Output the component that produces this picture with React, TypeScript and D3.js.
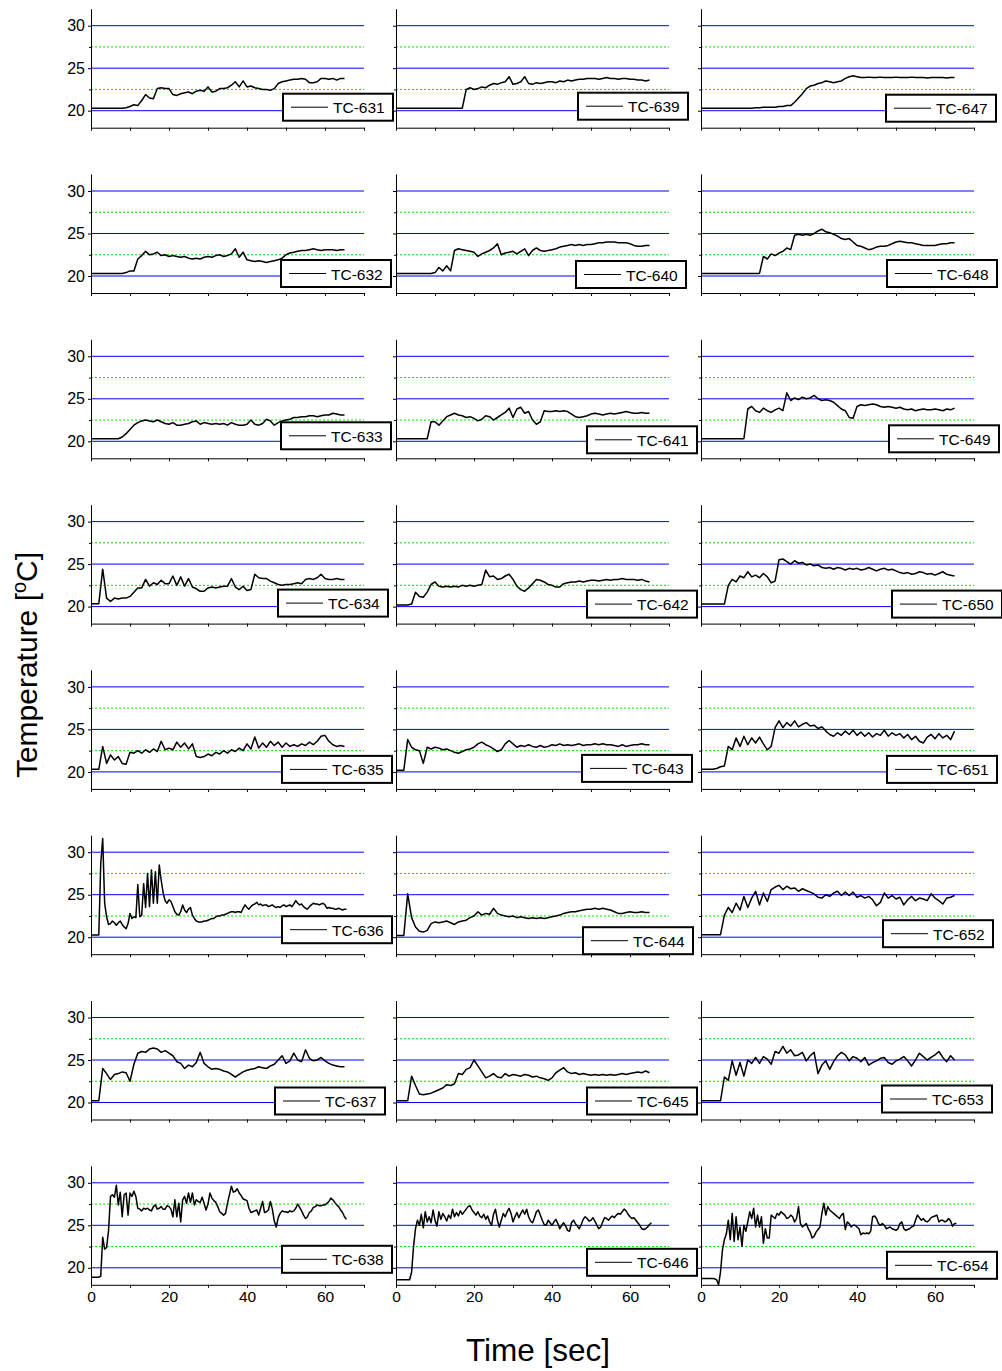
import React, { useRef, useEffect } from "react";
import * as d3 from "d3";

// ---- series (deg C), sampled every DT_COARSE or DT_FINE seconds from t = 0 ----
const DT_COARSE = 1;
const DT_FINE = 0.5;

const TC631 = [
  20.3, 20.3, 20.3, 20.3, 20.3, 20.3, 20.3, 20.3, 20.3, 20.35,
  20.5, 20.7, 20.6, 21.2, 21.9, 21.5, 21.4, 22.6, 22.7, 22.6,
  22.6, 21.9, 21.8, 22.0, 22.1, 22.2, 22.0, 22.3, 22.4, 22.3,
  22.8, 22.2, 22.3, 22.6, 22.6, 22.7, 23.0, 23.4, 22.8, 23.5,
  22.8, 22.9, 22.7, 22.6, 22.5, 22.5, 22.4, 22.6, 23.2, 23.4,
  23.5, 23.6, 23.7, 23.7, 23.8, 23.7, 23.3, 23.3, 23.4, 23.8,
  23.8, 23.7, 23.8, 23.6, 23.8, 23.8,
];
const TC632 = [
  20.3, 20.3, 20.3, 20.3, 20.3, 20.3, 20.3, 20.3, 20.3, 20.4,
  20.6, 20.6, 22.0, 22.4, 22.9, 22.5, 22.6, 22.8, 22.4, 22.5,
  22.3, 22.4, 22.3, 22.2, 22.3, 22.1, 22.0, 22.1, 22.0, 22.2,
  22.3, 22.2, 22.4, 22.5, 22.3, 22.4, 22.6, 23.2, 22.2, 22.8,
  21.9, 21.8, 21.7, 21.8, 21.7, 21.6, 21.7, 21.8, 21.9, 22.1,
  22.5, 22.7, 22.8, 22.9, 23.0, 23.0, 23.1, 23.2, 23.1, 23.0,
  23.1, 23.1, 23.1, 23.0, 23.1, 23.1,
];
const TC633 = [
  20.3, 20.3, 20.3, 20.3, 20.3, 20.3, 20.3, 20.3, 20.5, 20.9,
  21.4, 21.9, 22.2, 22.4, 22.5, 22.4, 22.3, 22.5, 22.3, 22.1,
  22.0, 22.2, 21.9, 21.9, 22.0, 22.1, 22.3, 22.4, 22.0, 22.2,
  22.1, 22.0, 22.1, 22.0, 22.1, 21.9, 22.2, 22.0, 21.9, 21.9,
  22.0, 22.5, 22.0, 21.9, 22.1, 22.6, 22.4, 21.9, 22.2, 22.4,
  22.5, 22.6, 22.8, 22.8, 22.9, 22.9, 23.0, 23.0, 22.9, 23.0,
  23.1, 23.1, 23.3, 23.2, 23.1, 23.1,
];
const TC634 = [
  20.35, 20.35, 20.35, 24.4, 21.0, 20.6, 21.0, 20.9, 21.0, 21.0,
  21.2, 21.7, 22.2, 22.2, 23.2, 22.4, 22.8, 22.6, 23.1, 22.7,
  22.7, 23.6, 22.5, 23.5, 22.4, 23.3, 22.3, 22.1, 21.8, 21.8,
  22.2, 22.3, 22.2, 22.3, 22.4, 22.4, 23.3, 22.3, 22.0, 22.4,
  21.9, 22.0, 23.8, 23.4, 23.3, 23.3, 23.0, 22.8, 22.6, 22.5,
  22.6, 22.6, 22.7, 22.8, 22.7, 23.2, 23.3, 23.2, 23.4, 23.8,
  23.3, 23.2, 23.2, 23.3, 23.2, 23.2,
];
const TC635 = [
  20.3, 20.3, 20.3, 23.0, 21.0, 22.0, 21.4, 21.8, 21.0, 20.9,
  22.3, 22.2, 22.5, 22.2, 22.6, 22.3, 22.7, 22.4, 23.6, 22.6,
  22.8, 22.6, 23.5, 22.9, 23.4, 22.7, 23.3, 21.8, 21.7, 21.8,
  22.1, 21.9, 22.3, 22.1, 22.5, 22.2, 22.6, 22.4, 22.8, 22.5,
  23.3, 22.7, 24.1, 22.8, 23.4, 22.9, 23.6, 23.1, 23.5, 22.9,
  23.4, 23.0, 23.2, 23.0, 23.3, 23.1, 23.5, 23.2, 23.6, 24.2,
  24.3, 23.6, 23.2, 23.0, 23.1, 23.0,
];
const TC636 = [
  20.26, 20.26, 20.26, 20.26, 20.26, 28.7, 31.6, 24.0, 22.4, 21.5,
  21.6, 21.9, 21.7, 21.4, 21.7, 21.9, 21.5, 21.2, 21.0, 21.6,
  22.8, 22.2, 22.4, 22.3, 26.2, 22.4, 22.6, 26.3, 23.5, 27.5,
  23.6, 27.9, 24.0, 27.7, 24.0, 28.5, 26.7, 25.2, 24.3, 24.0,
  24.4, 24.2, 23.6, 23.0, 22.7, 22.6, 23.0, 23.8, 23.2, 22.9,
  23.3, 23.5, 22.6, 22.2, 21.9, 21.8, 21.8, 21.8, 21.9, 21.9,
  22.0, 22.1, 22.2, 22.2, 22.4, 22.5, 22.5, 22.6, 22.6, 22.7,
  22.8, 22.9, 23.0, 23.0, 22.9, 23.0, 23.0, 22.9, 23.4, 23.8,
  23.5, 23.3, 23.6, 23.8, 23.9, 24.1, 23.8, 23.9, 23.7, 23.8,
  23.8, 23.6, 23.7, 23.8, 23.6, 23.5, 23.6, 23.5, 23.7, 23.8,
  23.6, 23.7, 23.8, 23.6, 23.9, 24.3, 24.0, 23.8, 23.9, 23.6,
  23.4, 23.3, 23.6, 23.8, 24.0, 23.9, 23.9, 23.8, 23.9, 24.0,
  23.8, 23.4, 23.5, 23.4, 23.4, 23.3, 23.3, 23.4, 23.3, 23.2,
  23.3, 23.3,
];
const TC637 = [
  20.2, 20.2, 20.2, 24.0, 23.4, 22.7, 23.3, 23.4, 23.6, 23.5,
  22.5, 24.5, 25.8, 26.0, 25.9, 26.3, 26.4, 26.3, 25.9, 26.1,
  25.8, 25.5, 24.8, 24.6, 24.0, 24.4, 24.2, 24.7, 25.9, 24.6,
  24.2, 23.9, 24.0, 23.9, 23.7, 23.6, 23.3, 23.0, 23.3, 23.6,
  23.8, 23.9, 24.0, 24.2, 24.1, 24.0, 24.3, 24.5, 25.0, 25.5,
  24.6, 24.9, 25.8, 25.0, 24.8, 26.2, 25.2, 24.9, 25.0, 25.3,
  24.9, 24.6, 24.4, 24.3, 24.2, 24.2,
];
const TC638 = [
  18.9, 18.9, 18.9, 18.9, 18.9, 19.0, 23.6, 22.2, 22.4, 24.4,
  28.4, 28.6, 28.3, 29.7, 27.4, 28.9, 26.0, 28.6, 28.8, 26.2,
  28.8, 28.4, 29.0, 28.4, 27.0, 26.9, 26.7, 27.0, 26.9, 27.0,
  26.8, 26.7, 27.2, 27.4, 26.9, 27.0, 27.2, 26.9, 26.9, 27.3,
  27.2, 26.9, 26.0, 28.0, 26.0, 27.6, 25.4, 28.0, 28.4, 27.6,
  28.8, 27.7, 28.8, 27.4, 28.0, 27.8, 27.7, 28.3, 27.6, 26.8,
  27.5, 28.8, 28.2, 27.9, 27.7, 27.2, 26.6, 26.4, 26.2, 26.4,
  27.6, 28.6, 29.6, 28.9, 29.0, 29.3, 28.8, 28.5, 28.1, 28.0,
  27.9, 27.0, 26.5, 26.6, 26.7, 26.8, 26.2, 27.0, 27.8, 26.5,
  26.6, 26.8, 27.8, 26.9, 25.5, 24.8, 25.9, 26.4, 26.7, 26.6,
  26.6, 26.5, 26.7, 26.6, 26.7, 27.0, 27.5, 27.1, 26.7, 26.2,
  25.8, 26.0, 26.5, 26.7, 27.1, 27.2, 27.4, 27.3, 27.3, 27.4,
  27.4, 27.6, 27.8, 28.2, 28.0, 27.7, 27.4, 27.2, 26.8, 26.5,
  26.0, 25.7,
];
const TC639 = [
  20.3, 20.3, 20.3, 20.3, 20.3, 20.3, 20.3, 20.3, 20.3, 20.3,
  20.3, 20.3, 20.3, 20.3, 20.3, 20.3, 20.3, 20.3, 22.5, 22.7,
  22.5, 22.6, 22.8, 22.7, 23.0, 23.2, 23.1, 23.3, 23.4, 24.0,
  23.1, 23.2, 23.4, 24.0, 23.2, 23.1, 23.3, 23.2, 23.3, 23.4,
  23.4, 23.3, 23.5, 23.4, 23.6, 23.5, 23.6, 23.7, 23.7, 23.8,
  23.8, 23.8, 23.7, 23.8, 23.9, 23.8, 23.8, 23.7, 23.8, 23.8,
  23.7, 23.7, 23.6, 23.6, 23.5, 23.6,
];
const TC640 = [
  20.3, 20.3, 20.3, 20.3, 20.3, 20.3, 20.3, 20.3, 20.3, 20.3,
  20.4, 21.0, 20.6, 21.2, 20.6, 23.0, 23.2, 23.1, 23.0, 22.9,
  22.8, 22.3, 22.6, 22.8, 23.0, 23.3, 23.8, 22.5, 22.7, 22.8,
  22.9, 22.6, 22.9, 23.2, 22.4, 23.0, 23.3, 23.0, 22.9, 23.0,
  23.1, 23.2, 23.4, 23.5, 23.6, 23.7, 23.6, 23.7, 23.6, 23.7,
  23.7, 23.8, 23.9, 23.9, 24.0, 24.0, 24.0, 23.9, 23.9, 23.9,
  23.8, 23.6, 23.5, 23.5, 23.6, 23.6,
];
const TC641 = [
  20.3, 20.3, 20.3, 20.3, 20.3, 20.3, 20.3, 20.3, 20.3, 22.3,
  22.3, 21.9, 22.4, 22.9, 23.1, 23.3, 23.1, 23.0, 22.8, 22.9,
  22.7, 22.4, 22.6, 23.0, 22.9, 22.5, 22.8, 23.1, 23.4, 23.9,
  22.8, 23.8, 24.0, 23.3, 23.5, 22.5, 22.0, 22.3, 23.6, 23.5,
  23.5, 23.6, 23.5, 23.6, 23.5, 23.2, 22.9, 22.8, 22.9, 23.0,
  23.2, 23.3, 23.2, 23.1, 23.2, 23.3, 23.2, 23.3, 23.4, 23.5,
  23.4, 23.3, 23.3, 23.4, 23.3, 23.3,
];
const TC642 = [
  20.2, 20.2, 20.2, 20.2, 20.3, 21.7, 21.2, 21.1, 21.7, 22.6,
  22.9, 22.4, 22.3, 22.4, 22.3, 22.4, 22.3, 22.5, 22.4, 22.5,
  22.4, 22.5, 22.6, 24.3, 23.5, 23.6, 23.2, 23.3, 23.6, 23.8,
  23.2, 22.4, 22.0, 21.8, 22.2, 22.7, 23.2, 23.1, 22.9, 22.6,
  22.5, 22.3, 22.3, 22.7, 22.8, 22.9, 22.9, 23.0, 22.9, 23.0,
  23.1, 23.1, 23.0, 23.1, 23.2, 23.1, 23.2, 23.2, 23.3, 23.2,
  23.2, 23.2, 23.1, 23.2, 23.0, 22.9,
];
const TC643 = [
  20.2, 20.2, 20.2, 23.8, 22.9, 22.6, 22.5, 21.0, 22.9, 22.7,
  22.9, 22.8, 22.6, 22.7, 22.5, 22.3, 22.2, 22.4, 22.6, 22.7,
  22.9, 23.3, 23.5, 23.2, 23.0, 22.7, 22.4, 22.6, 23.3, 23.7,
  23.3, 22.9, 23.1, 23.0, 23.2, 23.0, 22.9, 23.1, 22.9, 23.0,
  23.2, 23.1, 23.3, 23.1, 23.2, 23.1, 23.2, 23.3, 23.1, 23.2,
  23.2, 23.3, 23.2, 23.3, 23.2, 23.2, 23.1, 23.0, 23.2, 23.0,
  23.1, 23.2, 23.2, 23.3, 23.2, 23.2,
];
const TC644 = [
  20.2, 20.2, 20.2, 25.1, 22.3, 21.2, 20.7, 20.6, 20.8, 21.6,
  21.8, 21.7, 21.8, 21.9, 21.7, 21.5, 21.8, 21.9, 22.0, 22.3,
  22.5, 23.0, 22.6, 22.8, 22.7, 23.4, 22.8, 22.6, 22.5, 22.4,
  22.5, 22.3, 22.4, 22.3, 22.2, 22.3, 22.2, 22.3, 22.2, 22.3,
  22.4, 22.5, 22.6, 22.8, 22.9, 23.0, 23.0, 23.1, 23.2, 23.3,
  23.3, 23.4, 23.3, 23.4, 23.3, 23.2, 23.0, 22.8, 22.8, 22.9,
  23.0, 22.9, 22.9, 23.0, 22.9, 22.9,
];
const TC645 = [
  20.2, 20.2, 20.2, 20.2, 23.1, 22.0, 21.0, 20.9, 21.0, 21.1,
  21.3, 21.5, 21.7, 22.1, 22.0, 22.2, 23.4, 23.3, 23.9, 24.1,
  25.0, 24.3, 23.6, 22.9, 23.1, 23.4, 23.0, 22.9, 23.4, 23.1,
  23.3, 23.2, 23.1, 23.3, 23.2, 23.0, 23.1, 22.9, 22.8, 22.6,
  22.9, 23.5, 23.8, 24.1, 23.6, 23.4, 23.5, 23.3, 23.4, 23.3,
  23.2, 23.3, 23.2, 23.3, 23.2, 23.3, 23.2, 23.3, 23.4, 23.3,
  23.4, 23.5, 23.6, 23.5, 23.7, 23.5,
];
const TC646 = [
  18.6, 18.6, 18.6, 18.6, 18.6, 18.6, 18.6, 18.6, 19.5, 22.5,
  24.6, 25.6, 25.0, 26.3, 24.7, 26.6, 25.4, 26.0, 25.3, 26.8,
  25.6, 24.9, 26.6, 25.7, 26.4, 26.0, 25.5, 26.2, 25.8, 26.9,
  26.0, 26.5, 26.1, 26.7, 26.3, 26.6, 26.9, 27.2, 27.3, 26.8,
  26.5, 26.2, 26.6, 26.1, 25.9, 26.3, 25.7, 26.1, 25.4, 25.0,
  26.3, 26.9, 25.6, 24.8, 25.6, 26.4, 26.0, 26.6, 27.0, 26.4,
  25.4, 26.0, 26.5, 25.9, 26.4, 26.8, 26.3, 26.9, 26.0, 25.5,
  25.3, 25.9, 26.6, 26.8, 26.2, 25.6, 25.1, 25.0, 25.6, 25.3,
  25.0, 25.4, 25.7, 25.2, 24.6, 25.0, 25.3, 24.9, 24.4, 24.3,
  25.3, 25.6, 25.2, 24.9, 24.6, 25.1, 25.7, 26.0, 25.8, 25.5,
  25.6, 25.9, 25.5, 25.0, 24.6, 24.8, 25.4, 25.9, 25.8, 25.6,
  25.9, 26.1, 25.9, 26.2, 26.4, 26.3, 26.6, 26.9, 26.7, 26.3,
  26.0, 25.8, 25.9, 25.6, 25.3, 25.0, 24.6, 24.5, 24.6, 24.8,
  25.1, 25.3,
];
const TC647 = [
  20.3, 20.3, 20.3, 20.3, 20.3, 20.3, 20.3, 20.3, 20.3, 20.3,
  20.3, 20.3, 20.3, 20.3, 20.35, 20.35, 20.4, 20.4, 20.4, 20.4,
  20.5, 20.5, 20.6, 20.6, 21.0, 21.5, 22.0, 22.6, 22.9, 23.0,
  23.2, 23.3, 23.5, 23.4, 23.3, 23.4, 23.5, 23.8, 24.0, 24.1,
  24.0, 23.9, 23.9, 23.95, 23.9, 23.9, 23.95, 23.9, 23.9, 23.9,
  23.95, 23.9, 23.9, 23.9, 23.95, 23.9, 23.9, 23.9, 23.85, 23.9,
  23.9, 23.9, 23.9, 23.85, 23.9, 23.9,
];
const TC648 = [
  20.3, 20.3, 20.3, 20.3, 20.3, 20.3, 20.3, 20.3, 20.3, 20.3,
  20.3, 20.3, 20.3, 20.3, 20.3, 20.3, 22.3, 22.0, 22.6, 22.4,
  22.7, 22.9, 23.3, 23.1, 24.8, 24.9, 24.8, 24.9, 24.8, 25.0,
  25.3, 25.5, 25.2, 25.1, 24.9, 24.7, 24.4, 24.3, 24.4, 24.0,
  23.6, 23.5, 23.3, 23.1, 23.2, 23.4, 23.5, 23.5, 23.6, 23.8,
  24.0, 24.1, 24.0, 23.9, 23.9, 23.8, 23.7, 23.6, 23.6, 23.6,
  23.6, 23.7, 23.8, 23.8, 23.9, 23.9,
];
const TC649 = [
  20.3, 20.3, 20.3, 20.3, 20.3, 20.3, 20.3, 20.3, 20.3, 20.3,
  20.3, 20.3, 23.8, 24.1, 23.6, 23.4, 23.9, 23.6, 23.4, 23.7,
  23.9, 23.6, 25.7, 24.8, 25.1, 24.9, 25.2, 25.0, 25.1, 25.4,
  25.0, 24.8, 24.9, 24.8, 24.6, 24.2, 23.8, 23.6, 22.8, 22.7,
  24.1, 24.3, 24.2, 24.3, 24.4, 24.3, 24.1, 24.0, 24.1, 24.0,
  23.9, 24.0, 23.8, 23.7, 23.8, 23.6, 23.7, 23.8, 23.7, 23.7,
  23.8, 23.7, 23.6, 23.8, 23.7, 23.9,
];
const TC650 = [
  20.3, 20.3, 20.3, 20.3, 20.3, 20.3, 20.3, 22.5, 23.2, 22.9,
  23.6, 23.4, 24.1, 23.5, 23.7, 23.4, 23.9, 23.5, 22.8, 23.0,
  25.5, 25.6, 25.3, 25.0, 25.4, 25.1, 25.2, 24.9, 25.0, 24.8,
  24.9, 24.6, 24.5, 24.6, 24.4, 24.6, 24.5, 24.3, 24.5, 24.4,
  24.5, 24.3, 24.4, 24.6, 24.4, 24.2, 24.4, 24.5, 24.3, 24.4,
  24.2, 24.0, 23.9, 24.0, 23.8, 23.9, 24.1, 24.0, 23.8, 23.9,
  23.7, 23.9, 24.1, 23.8, 23.7, 23.6,
];
const TC651 = [
  20.3, 20.3, 20.3, 20.3, 20.4, 20.6, 20.7, 23.0, 22.6, 24.0,
  23.0, 24.2, 23.2, 24.0, 23.4, 24.1, 23.3, 22.6, 23.0, 25.2,
  26.0, 25.2, 25.8, 25.4, 26.0, 25.3, 25.6, 25.8, 25.4, 25.5,
  25.1, 25.3, 24.8, 24.4, 24.2, 24.6, 24.3, 24.8, 24.4, 24.9,
  24.3, 24.7, 24.2, 24.6, 24.1, 24.5, 24.3, 24.9, 24.2, 24.6,
  24.3, 24.5, 24.0, 24.4, 23.8, 24.2, 23.6, 23.4, 24.1, 24.4,
  23.9, 24.5, 24.0, 24.3, 23.8, 24.8,
];
const TC652 = [
  20.3, 20.3, 20.3, 20.3, 20.3, 20.3, 22.6, 23.5, 22.9, 24.0,
  23.2, 24.8, 23.5, 24.6, 25.4, 23.8, 25.2, 24.2, 25.6, 25.9,
  26.1, 25.6, 26.0, 25.7, 25.8, 25.4, 25.7, 25.5, 25.3, 25.1,
  24.7, 24.6, 25.0, 24.8, 25.2, 25.4, 24.9, 25.3, 24.9, 25.3,
  24.7, 24.9, 24.6, 24.8, 24.4, 23.7, 24.1, 25.2, 24.6, 24.9,
  24.5, 24.7, 23.8, 24.4, 24.8, 24.3, 24.6, 24.5, 24.3, 25.1,
  24.6, 24.3, 23.9, 24.6, 24.7, 24.9,
];
const TC653 = [
  20.2, 20.2, 20.2, 20.2, 20.2, 20.2, 23.0, 22.6, 24.9, 23.2,
  24.7, 23.1, 25.0, 24.6, 25.3, 24.6, 25.4, 25.1, 24.5, 26.0,
  25.8, 26.6, 25.8, 26.2, 25.5, 25.6, 25.9, 24.9, 25.5, 25.9,
  23.4, 24.4, 24.9, 23.9, 24.8, 25.5, 25.9, 25.6, 24.9, 25.4,
  25.2, 24.8, 25.3, 24.4, 24.7, 24.9, 25.2, 25.3, 24.7, 24.5,
  24.9, 25.1, 25.4, 24.9, 24.3, 25.0, 25.8, 25.4, 25.0, 25.3,
  25.6, 26.0, 25.3, 24.8, 25.5, 25.0,
];
const TC654 = [
  18.75, 18.75, 18.75, 18.75, 18.75, 18.75, 18.75, 18.7, 18.6, 18.0,
  19.5, 22.1, 23.3, 24.0, 25.6, 23.3, 26.4, 23.1, 26.0, 23.3,
  24.8, 22.5, 25.0, 24.3, 25.4, 26.6, 25.8, 27.0, 24.8, 26.2,
  24.8, 26.0, 22.9, 24.6, 23.5, 23.5, 26.2, 26.0, 25.8, 26.4,
  26.2, 26.6, 26.4, 26.2, 25.8, 25.9, 26.2, 26.0, 25.4, 25.8,
  27.2, 25.2, 24.8, 25.0, 25.2, 24.6, 24.2, 23.5, 23.7, 24.2,
  24.5, 24.8, 26.4, 27.6, 26.2, 27.2, 26.8, 26.6, 26.4, 26.2,
  26.0, 25.8, 26.2, 26.4, 24.5, 25.4, 25.2, 24.8, 25.0, 25.0,
  24.8, 24.6, 23.9, 24.1, 24.0, 24.1, 24.0, 24.3, 26.0, 26.1,
  25.8, 25.2, 25.0, 25.2, 25.0, 24.6, 24.7, 24.8, 24.6, 24.5,
  24.4, 24.6, 25.2, 25.4, 24.6, 24.4, 24.5, 24.6, 24.8, 24.9,
  25.6, 26.2, 25.9, 25.6, 25.8, 25.5, 25.4, 25.6, 25.9, 26.0,
  26.1, 26.2, 25.4, 25.6, 25.6, 25.4, 25.5, 25.8, 25.5, 24.9,
  25.2, 25.2,
];

// panels, column by column (8 rows each)
const PANELS = [
  { name: "TC-631", values: TC631, dt: DT_COARSE },
  { name: "TC-632", values: TC632, dt: DT_COARSE },
  { name: "TC-633", values: TC633, dt: DT_COARSE },
  { name: "TC-634", values: TC634, dt: DT_COARSE },
  { name: "TC-635", values: TC635, dt: DT_COARSE },
  { name: "TC-636", values: TC636, dt: DT_FINE },
  { name: "TC-637", values: TC637, dt: DT_COARSE },
  { name: "TC-638", values: TC638, dt: DT_FINE },
  { name: "TC-639", values: TC639, dt: DT_COARSE },
  { name: "TC-640", values: TC640, dt: DT_COARSE },
  { name: "TC-641", values: TC641, dt: DT_COARSE },
  { name: "TC-642", values: TC642, dt: DT_COARSE },
  { name: "TC-643", values: TC643, dt: DT_COARSE },
  { name: "TC-644", values: TC644, dt: DT_COARSE },
  { name: "TC-645", values: TC645, dt: DT_COARSE },
  { name: "TC-646", values: TC646, dt: DT_FINE },
  { name: "TC-647", values: TC647, dt: DT_COARSE },
  { name: "TC-648", values: TC648, dt: DT_COARSE },
  { name: "TC-649", values: TC649, dt: DT_COARSE },
  { name: "TC-650", values: TC650, dt: DT_COARSE },
  { name: "TC-651", values: TC651, dt: DT_COARSE },
  { name: "TC-652", values: TC652, dt: DT_COARSE },
  { name: "TC-653", values: TC653, dt: DT_COARSE },
  { name: "TC-654", values: TC654, dt: DT_FINE },
];

const X_DOMAIN = [0, 70];
const Y_DOMAIN = [18, 32];
const X_TICKS = [0, 10, 20, 30, 40, 50, 60, 70];
const X_LABELED = [0, 20, 40, 60];
const Y_TICKS = [20, 25, 30];
const Y_MINOR = [22.5, 27.5];
const SOLID_LEVELS = [20, 25, 30];
const DOTTED_LEVELS = [22.5, 27.5];

// layout
const W = 1002;
const H = 1371;
const COL_X = [91, 396, 701];
const ROW_TOP = 8.7;
const ROW_STEP = 165.3;
const PLOT_W = 273;
const PLOT_H = 119;
const ROWS = 8;
const FONT = "Arial, 'Liberation Sans', Helvetica, sans-serif";
// legend box offset from each panel's top-left corner
const LEGEND_POS = [
  [192, 85], [190, 86], [190, 83], [187, 85], [191, 86], [191, 81], [184, 87], [191, 80],
  [182, 84], [180, 87], [191, 87], [191, 86], [186, 85], [187, 92], [191, 87], [191, 83],
  [185, 86], [186, 86], [188, 86], [191, 86], [186, 86], [182, 85], [181, 85], [186, 86],
];
const LEGEND_W = 110;
const LEGEND_H = 27;

const App = () => {
  const ref = useRef<SVGSVGElement | null>(null);

  useEffect(() => {
    const svg = d3.select(ref.current);
    svg.selectAll("*").remove();

    const x = d3.scaleLinear().domain(X_DOMAIN).range([0, PLOT_W]);
    const y = d3.scaleLinear().domain(Y_DOMAIN).range([PLOT_H, 0]);

    const panels = svg.append("g");
    const legends = svg.append("g");

    PANELS.forEach((p, i) => {
      const col = Math.floor(i / ROWS);
      const row = i % ROWS;
      const left = COL_X[col];
      const top = ROW_TOP + row * ROW_STEP;
      const g = panels.append("g").attr("transform", `translate(${left},${top})`);

      // reference levels
      g.selectAll(".solid")
        .data(SOLID_LEVELS)
        .join("line")
        .attr("x1", x(X_DOMAIN[0]))
        .attr("x2", x(X_DOMAIN[1]))
        .attr("y1", (d) => y(d))
        .attr("y2", (d) => y(d))
        .attr("stroke", "#0000ff")
        .attr("stroke-width", 1);

      g.selectAll(".dotted")
        .data(DOTTED_LEVELS)
        .join("line")
        .attr("x1", x(X_DOMAIN[0]))
        .attr("x2", x(X_DOMAIN[1]))
        .attr("y1", (d) => y(d))
        .attr("y2", (d) => y(d))
        .attr("stroke", "#00e000")
        .attr("stroke-width", 1)
        .attr("stroke-dasharray", "2,2");

      // temperature trace
      const line = d3
        .line<number>()
        .x((_, j) => x(j * p.dt))
        .y((d) => y(d));
      g.append("path")
        .datum(p.values)
        .attr("d", line)
        .attr("fill", "none")
        .attr("stroke", "#000")
        .attr("stroke-width", 1.5)
        .attr("stroke-linejoin", "round");

      // y axis
      const yAxis = d3.axisLeft(y).tickValues(Y_TICKS).tickSize(3).tickSizeOuter(0).tickPadding(3);
      if (col !== 0) yAxis.tickFormat(() => "");
      g.append("g")
        .call(yAxis)
        .attr("font-size", 16)
        .attr("font-family", FONT);
      g.append("g")
        .call(d3.axisLeft(y).tickValues(Y_MINOR).tickSize(2).tickSizeOuter(0).tickFormat(() => ""))
        .call((s) => s.select(".domain").remove());

      // x axis
      const xAxis = d3
        .axisBottom(x)
        .tickValues(X_TICKS)
        .tickSize(3)
        .tickSizeOuter(0)
        .tickPadding(3)
        .tickFormat((d) => (row === ROWS - 1 && X_LABELED.includes(+d) ? String(d) : ""));
      g.append("g")
        .attr("transform", `translate(0,${PLOT_H})`)
        .call(xAxis)
        .attr("font-size", 15.5)
        .attr("font-family", FONT);

      // legend
      const [dx, dy] = LEGEND_POS[i];
      const lg = legends.append("g").attr("transform", `translate(${left + dx},${top + dy})`);
      lg.append("rect")
        .attr("width", LEGEND_W)
        .attr("height", LEGEND_H)
        .attr("fill", "#fff")
        .attr("stroke", "#000")
        .attr("stroke-width", 2);
      lg.append("line")
        .attr("x1", 8)
        .attr("x2", 45)
        .attr("y1", LEGEND_H / 2)
        .attr("y2", LEGEND_H / 2)
        .attr("stroke", "#000")
        .attr("stroke-width", 1);
      lg.append("text")
        .attr("x", 50)
        .attr("y", 19.5)
        .attr("font-size", 15.5)
        .attr("font-family", FONT)
        .text(p.name);
    });

    // axis titles
    const yTitle = svg
      .append("text")
      .attr("transform", "translate(37,665) rotate(-90)")
      .attr("text-anchor", "middle")
      .attr("font-size", 30)
      .attr("font-family", FONT);
    yTitle.append("tspan").text("Temperature [");
    yTitle.append("tspan").attr("font-size", 20).attr("dy", -11).text("o");
    yTitle.append("tspan").attr("dy", 11).text("C]");

    svg
      .append("text")
      .attr("x", 538)
      .attr("y", 1361)
      .attr("text-anchor", "middle")
      .attr("font-size", 31.5)
      .attr("font-family", FONT)
      .text("Time [sec]");
  }, []);

  return (
    <svg
      ref={ref}
      width={W}
      height={H}
      style={{ position: "absolute", left: 0, top: 0, background: "#fff", display: "block" }}
    />
  );
};

export default App;
